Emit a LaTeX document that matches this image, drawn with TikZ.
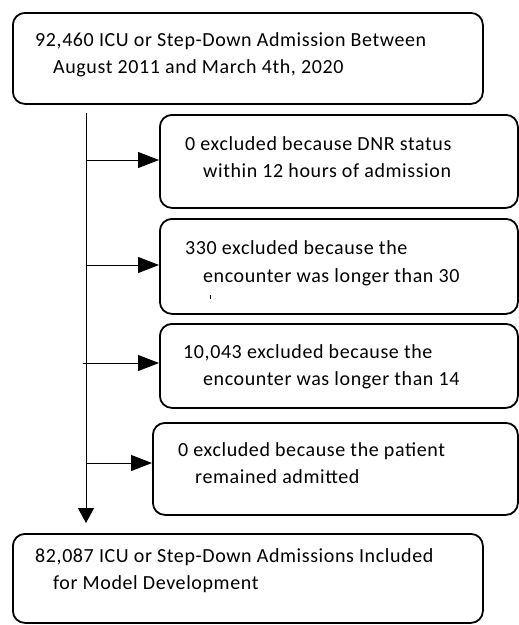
\documentclass[tikz,border=0pt]{standalone}
\usepackage{fontspec}
\setmainfont{Carlito}[LetterSpace=3]
\usetikzlibrary{arrows.meta}
\begin{document}
\begin{tikzpicture}[x=1pt,y=-1pt,
  box/.style={draw, line width=1.8pt, rounded corners=12pt, inner sep=0pt, anchor=north west},
  txt/.style={anchor=base west, inner sep=0pt, font=\fontsize{20}{24}\selectfont},
  conn/.style={line width=1pt},
  harr/.style={conn, -{Triangle[length=21pt,width=16pt]}},
  varr/.style={conn, -{Triangle[length=15pt,width=16pt]}}]
\useasboundingbox (0,0) rectangle (519,625);
% boxes
\node[box, minimum width=470pt, minimum height=91pt] (top) at (12,12) {};
\node[box, minimum width=358pt, minimum height=93pt] (b1) at (159,114) {};
\node[box, minimum width=358pt, minimum height=95pt] (b2) at (159,218) {};
\node[box, minimum width=358pt, minimum height=84pt] (b3) at (159,323) {};
\node[box, minimum width=365pt, minimum height=92pt] (b4) at (152,422) {};
\node[box, minimum width=470pt, minimum height=89pt] (bot) at (12,533) {};
% texts
\node[txt] (t1) at (35,46) {92,460 ICU or Step-Down Admission Between};
\node[txt] (t2) at (53,73) {August 2011 and March 4th, 2020};
\node[txt] (t3) at (185,150) {0 excluded because DNR status};
\node[txt] (t4) at (203,177) {within 12 hours of admission};
\node[txt] (t5) at (185,254) {330 excluded because the};
\node[txt] (t6) at (203,282) {encounter was longer than 30};
\node[txt] (t7) at (183,358) {10,043 excluded because the};
\node[txt] (t8) at (203,385) {encounter was longer than 14};
\node[txt] (t9) at (178,456) {0 excluded because the patient};
\node[txt] (t10) at (195,483) {remained admitted};
\node[txt] (t11) at (35,562) {82,087 ICU or Step-Down Admissions Included};
\node[txt] (t12) at (53,589) {for Model Development};
\fill (209.5,295) rectangle (211,299);
% connectors
\coordinate (vtop) at (86,113);
\coordinate (vend) at (86,523);
\draw[varr] (vtop) -- (vend);
\coordinate (j1) at (86,160);
\coordinate (j2) at (86,265);
\coordinate (j3) at (83,363);
\coordinate (j4) at (86,463);
\draw[harr] (j1) -- (j1 -| b1.west);
\draw[harr] (j2) -- (j2 -| b2.west);
\draw[harr] (j3) -- (j3 -| b3.west);
\draw[harr] (j4) -- (j4 -| b4.west);
\end{tikzpicture}
\end{document}
